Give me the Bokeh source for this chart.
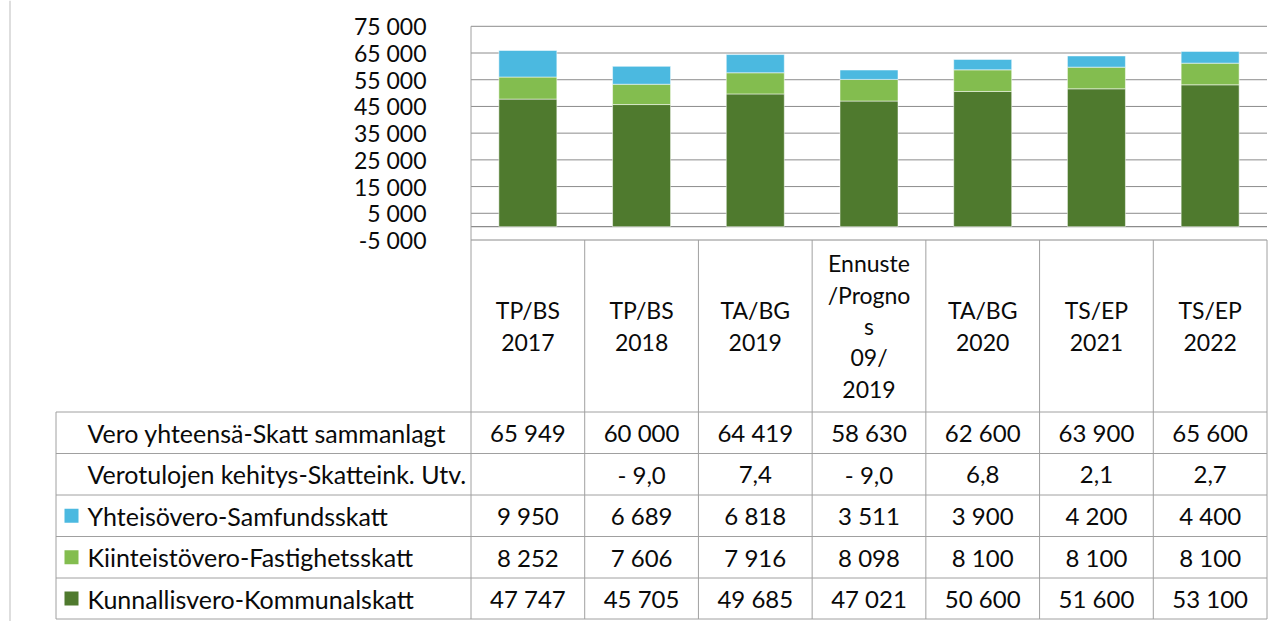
from bokeh.plotting import figure
from bokeh.models import Range1d, ColumnDataSource
from bokeh.embed import file_html
from bokeh.resources import INLINE
from bokeh.core.properties import value

# ---------------- data ----------------
categories = ["TP/BS\n2017", "TP/BS\n2018", "TA/BG\n2019",
              "Ennuste\n/Progno\ns\n09/\n2019",
              "TA/BG\n2020", "TS/EP\n2021", "TS/EP\n2022"]
kunnallisvero = [47747, 45705, 49685, 47021, 50600, 51600, 53100]
kiinteistovero = [8252, 7606, 7916, 8098, 8100, 8100, 8100]
yhteisovero = [9950, 6689, 6818, 3511, 3900, 4200, 4400]
vero_yhteensa = [65949, 60000, 64419, 58630, 62600, 63900, 65600]
kehitys = [None, -9.0, 7.4, -9.0, 6.8, 2.1, 2.7]
y_ticks = [-5000, 5000, 15000, 25000, 35000, 45000, 55000, 65000, 75000]
row_labels = ["Vero yhteensä-Skatt sammanlagt",
              "Verotulojen kehitys-Skatteink. Utv.",
              "Yhteisövero-Samfundsskatt",
              "Kiinteistövero-Fastighetsskatt",
              "Kunnallisvero-Kommunalskatt"]
series_colors = ["#4F7A2E", "#83BD4F", "#4BB9E0"]  # kunnallis, kiinteistö, yhteisö

# ---------------- formatting ----------------
def fmt_int(v):
    s = f"{abs(int(v)):,}".replace(",", " ")
    return ("-" if v < 0 else "") + s

def fmt_pct(v):
    if v is None:
        return ""
    s = f"{abs(v):.1f}".replace(".", ",")
    return ("- " + s) if v < 0 else s

# ---------------- layout (page pixel frame) ----------------
W, H = 1275, 621
OX, OY = 0, 0
PX0, PX1 = 470.5, 1266.5
NC = len(categories)
CW = (PX1 - PX0) / NC
Y_TOP, Y_BOT = 25.8, 239.5           # pixel rows of 75 000 and -5 000
VMIN, VMAX = y_ticks[0], y_ticks[-1]
k = (Y_BOT - Y_TOP) / (VMAX - VMIN)
ROW_Y = [411.5, 453.0, 494.5, 536.0, 577.5, 618.5]
TBL_X0 = 55.5
FONT = value("Lato")
TXT = "#0a0a0a"
GRID = "#8c8c8c"
TBL = "#a0a0a0"

p = figure(width=W, height=H, output_backend="svg", toolbar_location=None,
           x_range=Range1d(OX, OX + W), y_range=Range1d(OY + H, OY),
           x_axis_location=None, y_axis_location=None, min_border=0,
           outline_line_color=None, background_fill_color="white",
           border_fill_color="white")
p.grid.visible = False
p.extra_x_ranges = {"cat": Range1d(-0.5 - (PX0 - OX) / CW, -0.5 + (OX + W - PX0) / CW)}
p.extra_y_ranges = {"val": Range1d(VMIN - (OY + H - Y_BOT) / k, VMAX + (Y_TOP - OY) / k)}

# outer frame line at far left
p.segment(x0=[9.5], y0=[OY], x1=[9.5], y1=[OY + H], line_color="#bdbdbd", line_width=1)

# gridlines
p.segment(x0=PX0, x1=PX1, y0=y_ticks, y1=y_ticks, y_range_name="val",
          line_color=GRID, line_width=1)
p.segment(x0=[PX0], x1=[PX1], y0=[0], y1=[0], y_range_name="val",
          line_color=GRID, line_width=1.3)

# bars
src = ColumnDataSource(dict(x=list(range(NC)), kunn=kunnallisvero,
                            kiint=kiinteistovero, yht=yhteisovero))
p.vbar_stack(["kunn", "kiint", "yht"], x="x", width=0.51, source=src,
             color=series_colors, line_color="white", line_alpha=0.5, line_width=1,
             x_range_name="cat", y_range_name="val")

# y tick labels
p.text(x=[426] * len(y_ticks), y=y_ticks, text=[fmt_int(v) for v in y_ticks],
       y_range_name="val", text_align="right", text_baseline="middle",
       text_font=FONT, text_font_size="23px", text_color=TXT)

# table: vertical lines
xs_v = [PX0 + i * CW for i in range(NC + 1)]
p.segment(x0=[PX0], x1=[PX0], y0=[Y_TOP], y1=[ROW_Y[-1]], line_color=TBL)
p.segment(x0=xs_v[1:], x1=xs_v[1:], y0=[Y_BOT] * NC, y1=[ROW_Y[-1]] * NC, line_color=TBL)
p.segment(x0=[TBL_X0], x1=[TBL_X0], y0=[ROW_Y[0]], y1=[ROW_Y[-1]], line_color=TBL)
# table: horizontal lines
p.segment(x0=[TBL_X0] * len(ROW_Y), x1=[PX1] * len(ROW_Y), y0=ROW_Y, y1=ROW_Y, line_color=TBL)

# category header labels
p.text(x=list(range(NC)), y=[(Y_BOT + ROW_Y[0]) / 2] * NC, text=categories,
       x_range_name="cat", text_align="center", text_baseline="middle",
       text_font=FONT, text_font_size="23px", text_color=TXT, text_line_height=1.12)

# row labels and legend keys
row_c = [(ROW_Y[i] + ROW_Y[i + 1]) / 2 for i in range(5)]
p.text(x=[87] * 5, y=row_c, text=row_labels, text_align="left", text_baseline="middle",
       text_font=FONT, text_font_size="25px", text_color=TXT)
p.rect(x=[71] * 3, y=row_c[2:], width=14, height=14,
       color=[series_colors[2], series_colors[1], series_colors[0]], line_color=None)

# table values
rows = [[fmt_int(v) for v in vero_yhteensa],
        [fmt_pct(v) for v in kehitys],
        [fmt_int(v) for v in yhteisovero],
        [fmt_int(v) for v in kiinteistovero],
        [fmt_int(v) for v in kunnallisvero]]
for r, vals in enumerate(rows):
    p.text(x=list(range(NC)), y=[row_c[r]] * NC, text=vals, x_range_name="cat",
           text_align="center", text_baseline="middle",
           text_font=FONT, text_font_size="24px", text_color=TXT)

open("out.html", "w").write(file_html(p, INLINE))
